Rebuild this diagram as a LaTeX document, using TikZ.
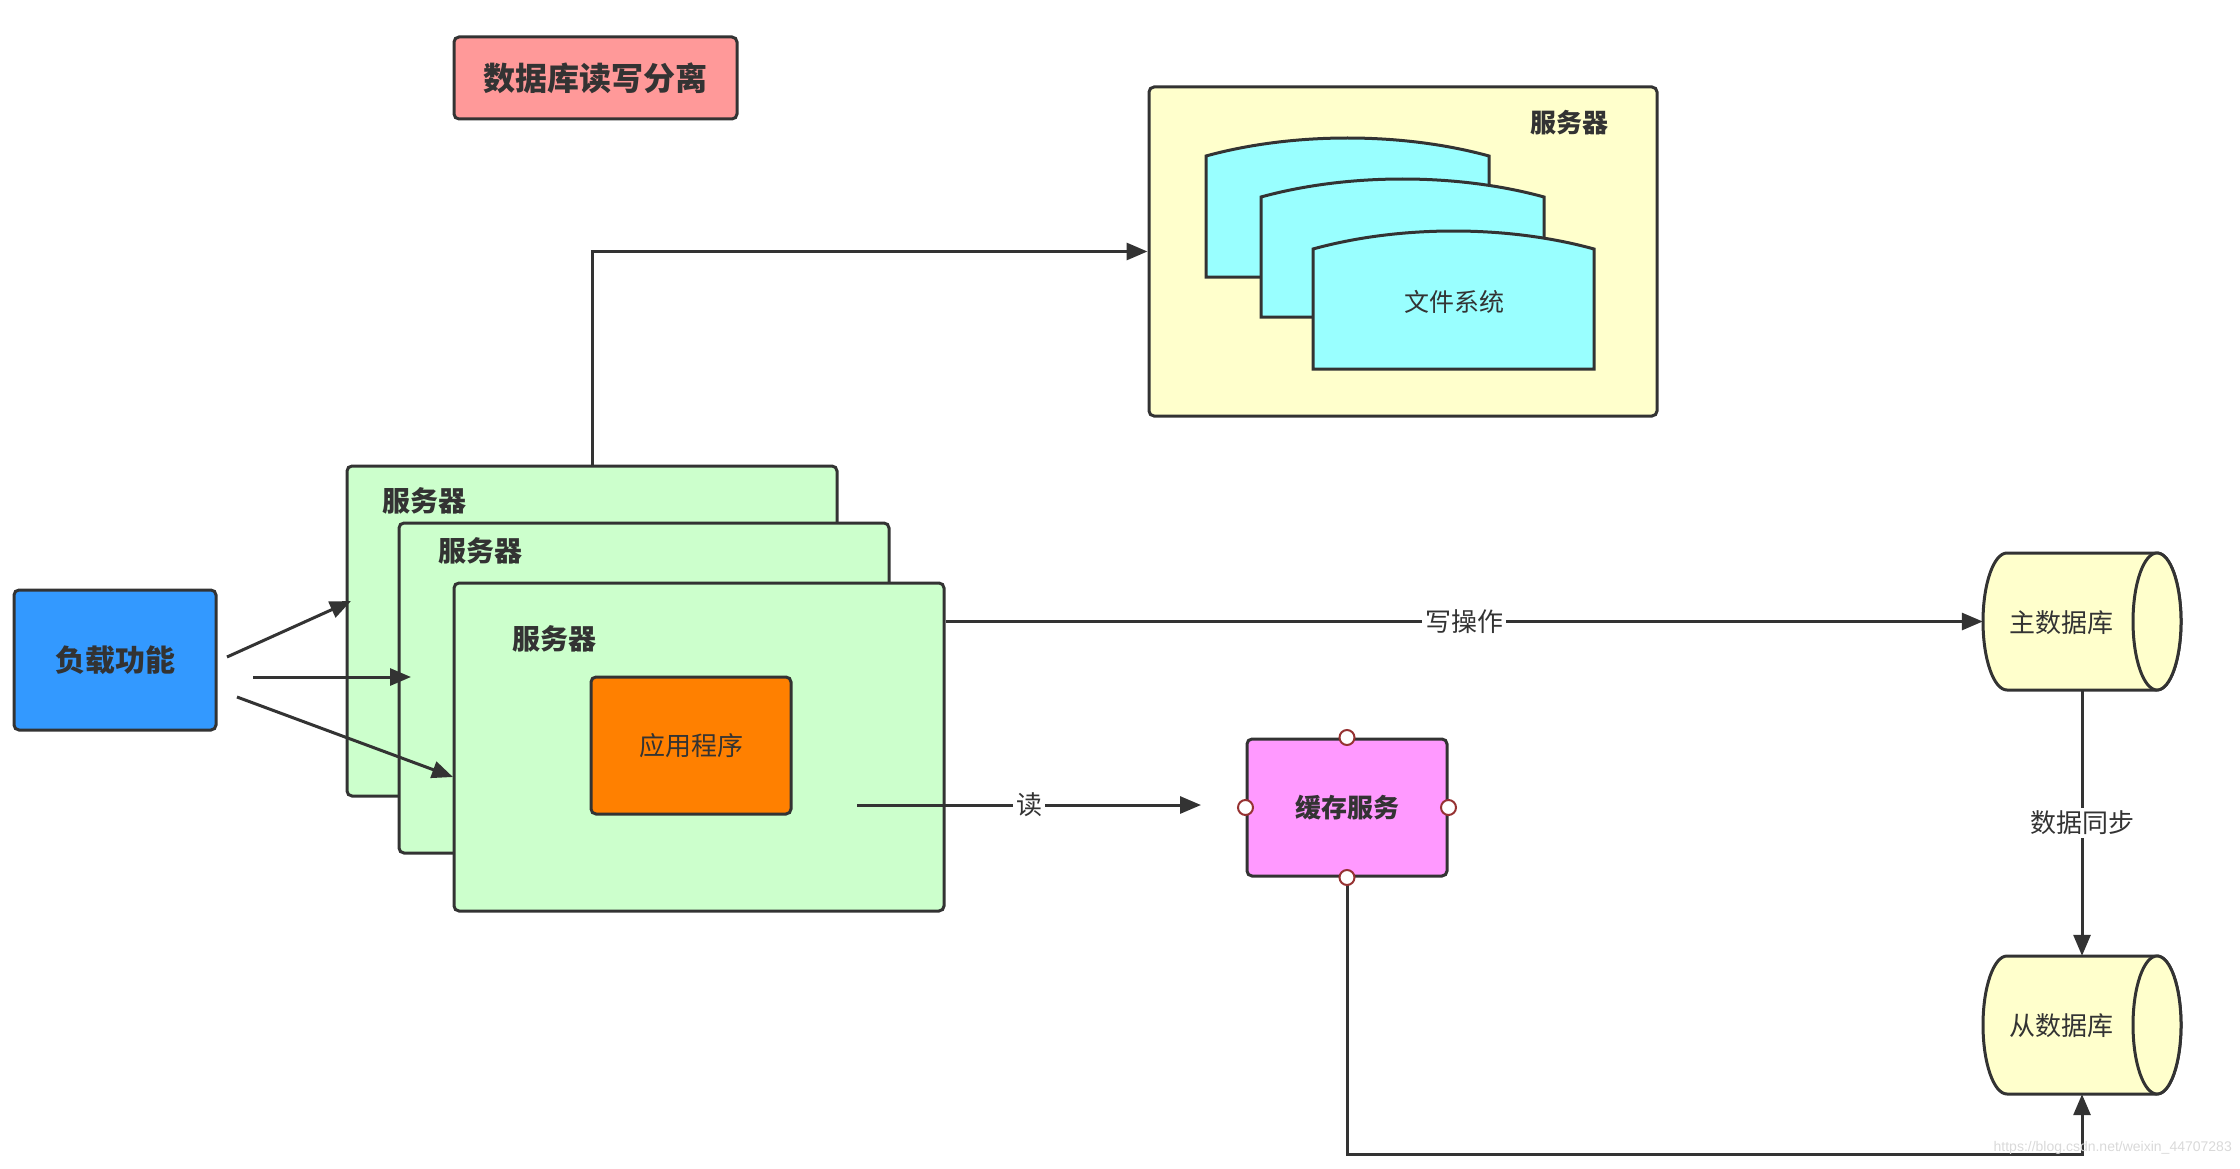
\documentclass[tikz,border=0pt]{standalone}
\usepackage{fontspec}
\setmainfont{Noto Sans CJK SC}
\newfontfamily\urlfont{Liberation Sans}
\usetikzlibrary{arrows.meta}

\definecolor{ink}{RGB}{51,51,51}
\definecolor{titlered}{RGB}{255,153,153}
\definecolor{paleyellow}{RGB}{255,255,204}
\definecolor{cyanfill}{RGB}{153,255,255}
\definecolor{palegreen}{RGB}{204,255,204}
\definecolor{apporange}{RGB}{255,128,0}
\definecolor{loadblue}{RGB}{51,153,255}
\definecolor{cachepink}{RGB}{255,153,255}
\definecolor{portred}{RGB}{150,50,50}

\tikzset{
  box/.style={draw=ink, line width=3pt, rounded corners=5pt, text=ink, inner sep=0pt},
  tapeshape/.style={draw=ink, line width=3pt, fill=cyanfill, line join=miter},
  dbline/.style={draw=ink, line width=3pt, fill=paleyellow},
  arr/.style={draw=ink, line width=3pt, -{Triangle[length=21pt,width=17pt]}},
  lbl/.style={text=ink, inner sep=3pt, font=\fontsize{26}{26}\selectfont},
  lblb/.style={text=ink, inner sep=0pt, font=\fontsize{28}{28}\selectfont\bfseries},
  port/.style={draw=portred, fill=white, line width=2pt},
}

\begin{document}
\begin{tikzpicture}[x=1pt,y=1pt,yscale=-1]
  \useasboundingbox (0,0) rectangle (2240,1169);

  %Shape: Title
  \node[box, fill=titlered, minimum width=283, minimum height=82, font=\fontsize{32}{32}\selectfont\bfseries] (title) at (595.5,78) {数据库读写分离};

  %Shape: File server
  \node[box, fill=paleyellow, minimum width=508, minimum height=329] (fsbox) at (1403,251.5) {};
  \node[lblb, font=\fontsize{26}{26}\selectfont\bfseries] (fslbl) at (1569,123) {服务器};
  %Shape: Tapes
  \draw[tapeshape] (1206,277) -- (1206,156) .. controls (1293,132) and (1402,132) .. (1489,156) -- (1489,277) -- cycle;
  \draw[tapeshape] (1261,317) -- (1261,197) .. controls (1348,173) and (1457,173) .. (1544,197) -- (1544,317) -- cycle;
  \draw[tapeshape] (1313,369) -- (1313,249) .. controls (1400,225) and (1507,225) .. (1594,249) -- (1594,369) -- cycle;
  \node[lbl, font=\fontsize{25}{25}\selectfont] (fstext) at (1454,302) {文件系统};

  %Shape: App servers
  \node[box, fill=palegreen, minimum width=490, minimum height=330] (srv1) at (592,631) {};
  \node[lblb] (srv1lbl) at (424,501) {服务器};
  \node[box, fill=palegreen, minimum width=490, minimum height=330] (srv2) at (644,688) {};
  \node[lblb] (srv2lbl) at (480,551) {服务器};
  \node[box, fill=palegreen, minimum width=490, minimum height=328] (srv3) at (699,747) {};
  \node[lblb] (srv3lbl) at (554,639) {服务器};
  \node[box, fill=apporange, minimum width=200, minimum height=137, font=\fontsize{26}{26}\selectfont] (app) at (691,745.5) {应用程序};

  %Shape: Load balancer
  \node[box, fill=loadblue, minimum width=202, minimum height=140, font=\fontsize{30}{30}\selectfont\bfseries] (load) at (115,660) {负载功能};

  %Shape: Cache
  \node[box, fill=cachepink, minimum width=200, minimum height=137, font=\fontsize{26}{26}\selectfont\bfseries] (cache) at (1347,807.5) {缓存服务};

  %Shape: Databases
  \node[minimum width=198, minimum height=137, inner sep=0pt] (master) at (2082,621.5) {};
  \draw[dbline] (2007,553) -- (2157,553) arc[start angle=-90, end angle=90, x radius=24, y radius=68.5] -- (2007,690) arc[start angle=90, end angle=270, x radius=24, y radius=68.5] -- cycle;
  \draw[dbline] (2157,621.5) ellipse [x radius=24, y radius=68.5];
  \node[lbl] (masterlbl) at (2061,623) {主数据库};
  \node[minimum width=198, minimum height=138, inner sep=0pt] (slave) at (2082,1025) {};
  \draw[dbline] (2007,956) -- (2157,956) arc[start angle=-90, end angle=90, x radius=24, y radius=69] -- (2007,1094) arc[start angle=90, end angle=270, x radius=24, y radius=69] -- cycle;
  \draw[dbline] (2157,1025) ellipse [x radius=24, y radius=69];
  \node[lbl] (slavelbl) at (2061,1026) {从数据库};

  %Connectors: load balancing
  \coordinate (ld1) at (227,657);
  \coordinate (ld2) at (253,677);
  \coordinate (ld3) at (237,697);
  \coordinate (sv1) at (351,601);
  \coordinate (sv2) at (411,677);
  \coordinate (sv3) at (453,777);
  \draw[arr] (ld1) -- (sv1);
  \draw[arr] (ld2) -- (sv2);
  \draw[arr] (ld3) -- (sv3);

  %Connectors: files, write, read
  \draw[arr] (srv1.north) |- (fsbox.west);
  \draw[arr] (srv3.east |- master.west) -- node[lbl, fill=white] (wlbl) {写操作} (master.west);
  \coordinate (rd1) at (857,805);
  \coordinate (rd2) at (1201,805);
  \draw[arr] (rd1) -- node[lbl, fill=white] (rlbl) {读} (rd2);

  %Connectors: sync and cache
  \draw[arr] (master.south) -- node[lbl, fill=white] (synclbl) {数据同步} (slave.north);
  \coordinate (bend) at (2082,1154);
  \draw[arr] (cache.south) |- (bend) -- (slave.south);
  \foreach \p in {north,south,east,west}
    \draw[port] (cache.\p) circle (7.5);

  % Text Node
  \node[text=black!15, font=\urlfont\fontsize{14}{14}\selectfont, anchor=east, inner sep=0pt] (wm) at (2232,1148) {https://blog.csdn.net/weixin\_44707283};
\end{tikzpicture}
\end{document}
